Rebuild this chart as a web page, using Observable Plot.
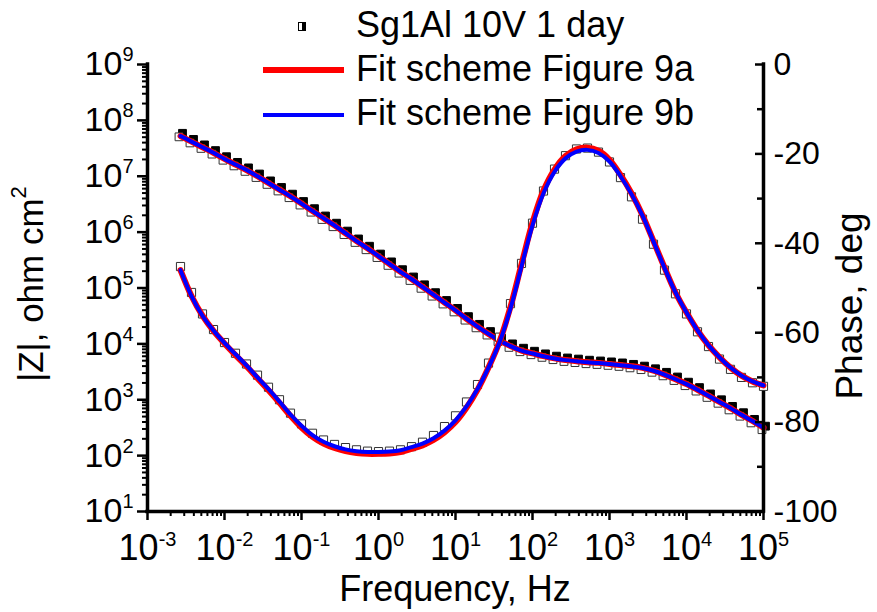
<!DOCTYPE html>
<html><head><meta charset="utf-8">
<script src="https://cdn.jsdelivr.net/npm/d3@7"></script>
<script src="https://cdn.jsdelivr.net/npm/@observablehq/plot@0.6"></script>
<style>
body{margin:0;background:#fff;}
#wrap{position:relative;width:877px;height:612px;font-family:"Liberation Sans",Arial,sans-serif;color:#000;overflow:hidden;}
#wrap svg{position:absolute;left:0;top:0;}
.lg{position:absolute;font-size:36px;line-height:36px;white-space:nowrap;}
.sw{position:absolute;}
</style></head><body><div id="wrap"></div>
<script>
// ---- data ----
const freq = [2.683e-3,3.728e-3,5.179e-3,7.197e-3,
  1e-2,1.389e-2,1.931e-2,2.683e-2,3.728e-2,5.179e-2,7.197e-2,
  0.1,0.1389,0.1931,0.2683,0.3728,0.5179,0.7197,
  1,1.389,1.931,2.683,3.728,5.179,7.197,
  10,13.89,19.31,26.83,37.28,51.79,71.97,
  100,138.9,193.1,268.3,372.8,517.9,719.7,
  1000,1389,1931,2683,3728,5179,7197,
  1e4,13895,19307,26827,37276,51795,71969,1e5];
const zData = [5.4e7,4.2e7,3.35e7,2.65e7,2.06e7,1.63e7,1.3e7,1.01e7,7.6e6,5.8e6,
  4.4e6,3.25e6,2.42e6,1.79e6,1.33e6,9.6e5,6.95e5,5.15e5,3.73e5,2.7e5,
  1.96e5,1.45e5,1.05e5,7.6e4,5.5e4,3.97e4,2.83e4,2.06e4,1.53e4,1.17e4,
  9.2e3,7.7e3,6.8e3,6.1e3,5.55e3,5.15e3,4.92e3,4.7e3,4.55e3,4.38e3,
  4.2e3,3.96e3,3.68e3,3.3e3,2.85e3,2.35e3,1.9e3,1.52e3,1.17e3,920,
  700,540,410,310];
const zFitA = [5.25e7,4.17e7,3.31e7,2.63e7,2.04e7,1.62e7,1.29e7,1.00e7,7.59e6,5.75e6,
  4.37e6,3.24e6,2.40e6,1.78e6,1.32e6,9.55e5,6.92e5,5.13e5,3.72e5,2.69e5,
  1.95e5,1.45e5,1.05e5,7.59e4,5.50e4,3.98e4,2.82e4,2.04e4,1.51e4,1.15e4,
  9.12e3,7.59e3,6.76e3,6.03e3,5.50e3,5.13e3,4.90e3,4.68e3,4.57e3,4.37e3,
  4.17e3,3.98e3,3.72e3,3.31e3,2.82e3,2.34e3,1.91e3,1.51e3,1.18e3,912,
  708,537,417,316];
const zFitB = [5.25e7,4.17e7,3.31e7,2.63e7,2.04e7,1.62e7,1.29e7,1.00e7,7.59e6,5.75e6,
  4.37e6,3.24e6,2.40e6,1.78e6,1.32e6,9.55e5,6.92e5,5.13e5,3.72e5,2.69e5,
  1.95e5,1.45e5,1.05e5,7.59e4,5.50e4,3.98e4,2.82e4,2.04e4,1.51e4,1.15e4,
  9.10e3,7.57e3,6.74e3,6.02e3,5.49e3,5.12e3,4.89e3,4.67e3,4.55e3,4.35e3,
  4.15e3,3.96e3,3.70e3,3.30e3,2.81e3,2.33e3,1.90e3,1.51e3,1.18e3,912,
  708,537,417,316];
const phaseData = [-45.2,-51.0,-55.8,-59.3,-62.2,-64.6,-67.0,-69.5,-72.2,-75.0,
  -78.0,-80.4,-82.5,-84.0,-85.0,-85.7,-86.2,-86.5,-86.6,-86.5,
  -86.2,-85.5,-84.5,-83.0,-81.0,-78.6,-75.5,-71.6,-66.8,-61.0,
  -53.5,-44.5,-35.5,-28.3,-23.4,-20.4,-18.9,-18.7,-19.6,-21.8,
  -25.3,-29.6,-34.6,-40.2,-46.0,-51.3,-55.8,-59.8,-63.1,-65.9,
  -68.2,-70.0,-71.2,-72.0];
const phaseFitA = [-46.0,-51.8,-56.2,-59.6,-62.4,-65.0,-67.5,-70.2,-72.9,-75.7,
  -78.6,-81.2,-83.3,-84.8,-85.8,-86.5,-86.9,-87.1,-87.1,-87.0,
  -86.7,-86.0,-85.2,-84.0,-82.3,-80.0,-76.8,-72.8,-67.8,-62.0,
  -54.2,-44.7,-35.4,-28.2,-23.5,-20.5,-19.0,-18.6,-19.3,-21.3,
  -24.7,-28.8,-33.7,-39.5,-45.4,-51.0,-55.5,-59.5,-62.8,-65.5,
  -67.8,-69.6,-70.9,-71.8];
const phaseFitB = [-46.0,-51.8,-56.2,-59.5,-62.3,-64.8,-67.3,-70.0,-72.6,-75.4,
  -78.3,-80.8,-82.9,-84.4,-85.4,-86.1,-86.5,-86.7,-86.7,-86.6,
  -86.3,-85.6,-84.8,-83.6,-81.9,-79.6,-76.5,-72.6,-67.8,-62.2,
  -54.6,-45.2,-36.0,-28.8,-24.0,-21.0,-19.5,-19.1,-19.8,-21.7,
  -25.0,-29.0,-33.8,-39.6,-45.5,-51.0,-55.5,-59.5,-62.8,-65.5,
  -67.8,-69.6,-70.9,-71.8];
const xTicks = [1e-3,1e-2,1e-1,1e0,1e1,1e2,1e3,1e4,1e5];
const zTicks = [1e1,1e2,1e3,1e4,1e5,1e6,1e7,1e8,1e9];
const phaseTicks = [-100,-80,-60,-40,-20,0];
const phaseMinorTicks = [-90,-70,-50,-30,-10];
const legendLabels = ["Sg1Al 10V 1 day","Fit scheme Figure 9a","Fit scheme Figure 9b"];
const xTitle = "Frequency, Hz";
const zTitle = ["|Z|, ohm cm","2"];
const phaseTitle = "Phase, deg";

// ---- layout ----
const W = 877, H = 612, mL = 147, mR = 114, mT = 64, mB = 101;
const FONT = "'Liberation Sans', Arial, sans-serif";
const rows = freq.map((f, i) => ({f, z: zData[i], za: zFitA[i], zb: zFitB[i], p: phaseData[i], pa: phaseFitA[i], pb: phaseFitB[i]}));
const logMinor = (lo, hi) => d3.range(lo, hi).flatMap(e => d3.range(2, 10).map(m => m * Math.pow(10, e)));
const xMinor = logMinor(-3, 5);
const zMinor = logMinor(1, 9);
const expFmt = d => "10^" + Math.round(Math.log10(d));
const common = {width: W, height: H, marginLeft: mL, marginRight: mR, marginTop: mT, marginBottom: mB,
  style: {fontFamily: FONT, background: "transparent", overflow: "visible", color: "#000"}};

const p1 = Plot.plot({
  ...common,
  x: {type: "log", domain: [1e-3, 1e5]},
  y: {type: "log", domain: [10, 1e9]},
  marks: [
    Plot.axisX(xMinor, {anchor: "bottom", tickSize: 5, strokeWidth: 2, tickFormat: () => "", label: null}),
    Plot.axisX(xTicks, {anchor: "bottom", tickSize: 9, strokeWidth: 2.5, tickPadding: 14, fontSize: 36, tickFormat: expFmt, label: null}),
    Plot.axisY(zMinor, {anchor: "left", tickSize: 5, strokeWidth: 2, tickFormat: () => "", label: null}),
    Plot.axisY(zTicks, {anchor: "left", tickSize: 10, strokeWidth: 2.5, tickPadding: 4, fontSize: 34, tickFormat: expFmt, label: null}),
    Plot.ruleX([1e-3], {strokeWidth: 3.5, strokeLinecap: "square"}),
    Plot.ruleY([10], {strokeWidth: 3.5, strokeLinecap: "square"}),
    Plot.dot(rows, {x: "f", y: "z", symbol: "square", r: 4.4, fill: "#000", stroke: "#000", strokeWidth: 1, dx: 2, dy: -2}),
    Plot.dot(rows, {x: "f", y: "z", symbol: "square", r: 4.4, fill: "#fff", stroke: "#333", strokeWidth: 1, dx: -1.5, dy: 1.5}),
    Plot.line(rows, {x: "f", y: "za", stroke: "#ff0000", strokeWidth: 6, curve: "catmull-rom"}),
    Plot.line(rows, {x: "f", y: "zb", stroke: "#0000ff", strokeWidth: 4, curve: "catmull-rom"})
  ]
});

const p2 = Plot.plot({
  ...common,
  x: {type: "log", domain: [1e-3, 1e5], axis: null},
  y: {domain: [-100, 0]},
  marks: [
    Plot.axisY(phaseMinorTicks, {anchor: "right", tickSize: 7, dx: -7, strokeWidth: 2.5, tickFormat: () => "", label: null}),
    Plot.axisY(phaseTicks, {anchor: "right", tickSize: 9, dx: -9, strokeWidth: 2.5, tickFormat: () => "", label: null}),
    Plot.axisY(phaseTicks, {anchor: "right", tickSize: 0, tickPadding: 10, fontSize: 32, tickFormat: d => String(d), label: null}),
    Plot.ruleX([1e5], {strokeWidth: 3.5, strokeLinecap: "square"}),
    Plot.dot(rows, {x: "f", y: "p", symbol: "square", r: 4.6, fill: "#fff", stroke: "#333", strokeWidth: 1}),
    Plot.line(rows, {x: "f", y: "pa", stroke: "#ff0000", strokeWidth: 6, curve: "catmull-rom"}),
    Plot.line(rows, {x: "f", y: "pb", stroke: "#0000ff", strokeWidth: 4, curve: "catmull-rom"})
  ]
});

// superscripts in tick labels
const NS = "http://www.w3.org/2000/svg";
function supify(svg, size, dy) {
  svg.querySelectorAll("text").forEach(t => {
    const s = t.textContent;
    if (!s.includes("^")) return;
    const [base, exp] = s.split("^");
    while (t.firstChild) t.removeChild(t.firstChild);
    const a = document.createElementNS(NS, "tspan"); a.textContent = base;
    const b = document.createElementNS(NS, "tspan"); b.textContent = exp;
    b.setAttribute("font-size", size);
    b.setAttribute("dy", dy);
    t.append(a, b);
  });
}
supify(p1, 20, -14);

// axis titles
const s1 = d3.select(p1);
s1.append("text").attr("x", (mL + W - mR) / 2).attr("y", 601).attr("text-anchor", "middle")
  .attr("font-size", 36).attr("fill", "#000").text(xTitle);
const zt = s1.append("text").attr("transform", `translate(43,284) rotate(-90)`)
  .attr("text-anchor", "middle").attr("font-size", 35).attr("fill", "#000");
zt.append("tspan").text(zTitle[0]);
zt.append("tspan").attr("font-size", 22).attr("dy", -17).text(zTitle[1]);
d3.select(p2).append("text").attr("transform", `translate(862,306) rotate(-90)`)
  .attr("text-anchor", "middle").attr("font-size", 37).attr("fill", "#000").text(phaseTitle);

const wrap = document.getElementById("wrap");
wrap.append(p1, p2);

// legend
const legend = document.createElement("div");
legend.innerHTML =
  `<div class="sw" style="left:298px;top:22px;width:6px;height:7px;border:1px solid #000;background:linear-gradient(to right,#fff 50%,#000 50%)"></div>
   <div class="sw" style="left:263px;top:67px;width:81px;height:6px;background:#ff0000"></div>
   <div class="sw" style="left:263px;top:113px;width:81px;height:4px;background:#0000ff"></div>
   <div class="lg" style="left:356px;top:7px">${legendLabels[0]}</div>
   <div class="lg" style="left:356px;top:51px">${legendLabels[1]}</div>
   <div class="lg" style="left:356px;top:95px">${legendLabels[2]}</div>`;
wrap.append(legend);
</script></body></html>
